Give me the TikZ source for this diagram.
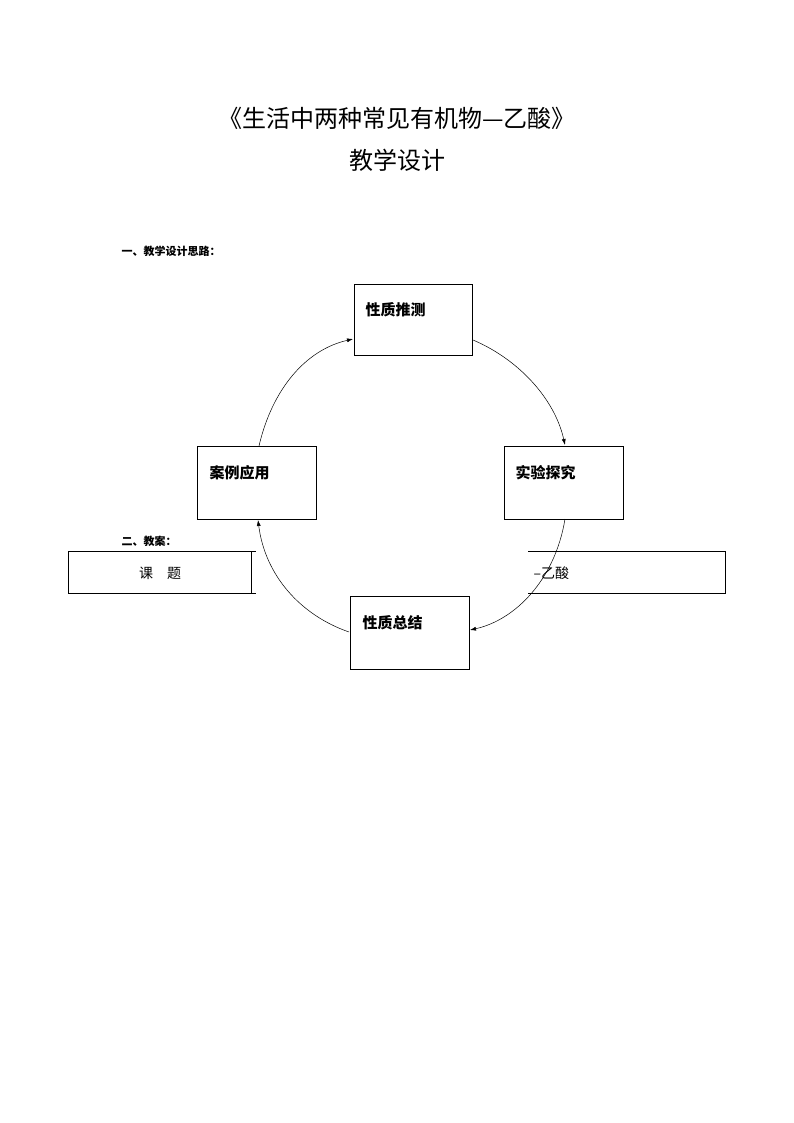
\documentclass[tikz,border=0pt]{standalone}
\usepackage{fontspec}
\setmainfont{Noto Sans CJK SC}
\usetikzlibrary{arrows.meta}
\begin{document}
\begin{tikzpicture}[x=1pt,y=-1pt,
  bx/.style={draw,fill=white,line width=0.6pt},
  lb/.style={anchor=west,font=\fontsize{15}{15}\selectfont\bfseries},
  arr/.style={line width=0.5pt,-{Latex[length=6pt,width=4pt]}}]
\useasboundingbox (0,0) rectangle (794,1123);
\node (t1) at (397,118) {\fontsize{24}{24}\selectfont 《生活中两种常见有机物---乙酸》};
\node (t2) at (397,160) {\fontsize{24}{24}\selectfont 教学设计};
\node[anchor=west,font=\fontsize{11}{11}\selectfont\bfseries] (s1) at (118,251) {一、教学设计思路：};
\node[anchor=west,font=\fontsize{11}{11}\selectfont\bfseries] (s2) at (118,541) {二、教案：};
\draw[line width=0.6pt] (68,551) rectangle (725,593);
\draw[line width=0.6pt] (251,551) -- (251,593);
\node (k) at (160,573) {\fontsize{14}{14}\selectfont 课\quad 题};
\node[anchor=west] (k2) at (530,573) {\fontsize{14}{14}\selectfont --乙酸};
\fill[white] (256,283) rectangle (528,672);
\draw[bx] (354,284) rectangle (472,355);
\draw[bx] (197,446) rectangle (316,519);
\draw[bx] (504,446) rectangle (623,519);
\draw[bx] (350,596) rectangle (469,669);
\coordinate (a1) at (259,446); \coordinate (a2) at (353,339);
\coordinate (b1) at (473,340); \coordinate (b2) at (565,445);
\coordinate (c1) at (565,519); \coordinate (c2) at (470,630);
\coordinate (d1) at (349,632); \coordinate (d2) at (258,520);
\draw[arr] (a1) .. controls (272,390) and (305,350) .. (a2);
\draw[arr] (b1) .. controls (520,360) and (555,400) .. (b2);
\draw[arr] (c1) .. controls (555,580) and (515,620) .. (c2);
\draw[arr] (d1) .. controls (300,615) and (265,575) .. (d2);
\node[lb] (n1) at (362,310) {性质推测};
\node[lb] (n2) at (206,473) {案例应用};
\node[lb] (n3) at (512,473) {实验探究};
\node[lb] (n4) at (359,623) {性质总结};
\end{tikzpicture}
\end{document}
